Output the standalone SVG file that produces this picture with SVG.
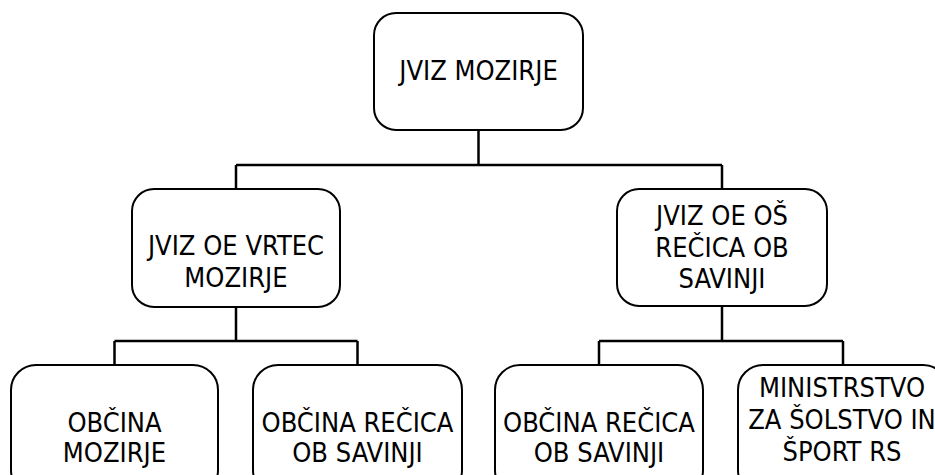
<svg xmlns="http://www.w3.org/2000/svg" width="935" height="475" viewBox="0 0 935 475">
<style>
.box{fill:#fff;stroke:#000;stroke-width:2}
.lbl{font-family:"DejaVu Sans Condensed","DejaVu Sans",Verdana,sans-serif;font-stretch:condensed;font-size:27px;fill:#000;text-anchor:middle}
.conn{fill:none;stroke:#000;stroke-width:2.5}
</style>
<rect width="935" height="475" fill="#fff"/>
<g id="connectors">
<path class="conn" d="M478.5,130 V165 M236,165 H722 M236,165 V189 M722,165 V189"/>
<path class="conn" d="M236,307 V341 M114.5,341 H357.5 M114.5,341 V365 M357.5,341 V365"/>
<path class="conn" d="M722,306 V341 M599,341 H843 M599,341 V365 M843,341 V365"/>
</g>
<g id="n-jviz-mozirje">
<rect class="box" x="374" y="13" width="209" height="117" rx="22"/>
<text class="lbl" x="478.5" y="80">JVIZ MOZIRJE</text>
</g>
<g id="n-vrtec">
<rect class="box" x="132" y="189" width="208" height="118" rx="22"/>
<text class="lbl" x="236" y="255">JVIZ OE VRTEC</text>
<text class="lbl" x="236" y="287">MOZIRJE</text>
</g>
<g id="n-os">
<rect class="box" x="617" y="189" width="210" height="117" rx="22"/>
<text class="lbl" x="722" y="225">JVIZ OE OŠ</text>
<text class="lbl" x="722" y="257">REČICA OB</text>
<text class="lbl" x="722" y="288">SAVINJI</text>
</g>
<g id="n-obcina-mozirje">
<rect class="box" x="11" y="365" width="207" height="130" rx="25"/>
<text class="lbl" x="114.5" y="432">OBČINA</text>
<text class="lbl" x="114.5" y="462">MOZIRJE</text>
</g>
<g id="n-obcina-recica-1">
<rect class="box" x="253" y="365" width="209" height="130" rx="25"/>
<text class="lbl" x="357.5" y="432">OBČINA REČICA</text>
<text class="lbl" x="357.5" y="462">OB SAVINJI</text>
</g>
<g id="n-obcina-recica-2">
<rect class="box" x="495" y="365" width="208" height="130" rx="25"/>
<text class="lbl" x="599" y="432">OBČINA REČICA</text>
<text class="lbl" x="599" y="462">OB SAVINJI</text>
</g>
<g id="n-ministrstvo">
<rect class="box" x="738" y="365" width="210" height="130" rx="25"/>
<text class="lbl" x="842" y="397">MINISTRSTVO</text>
<text class="lbl" x="842" y="429">ZA ŠOLSTVO IN</text>
<text class="lbl" x="842" y="461">ŠPORT RS</text>
</g>
</svg>
